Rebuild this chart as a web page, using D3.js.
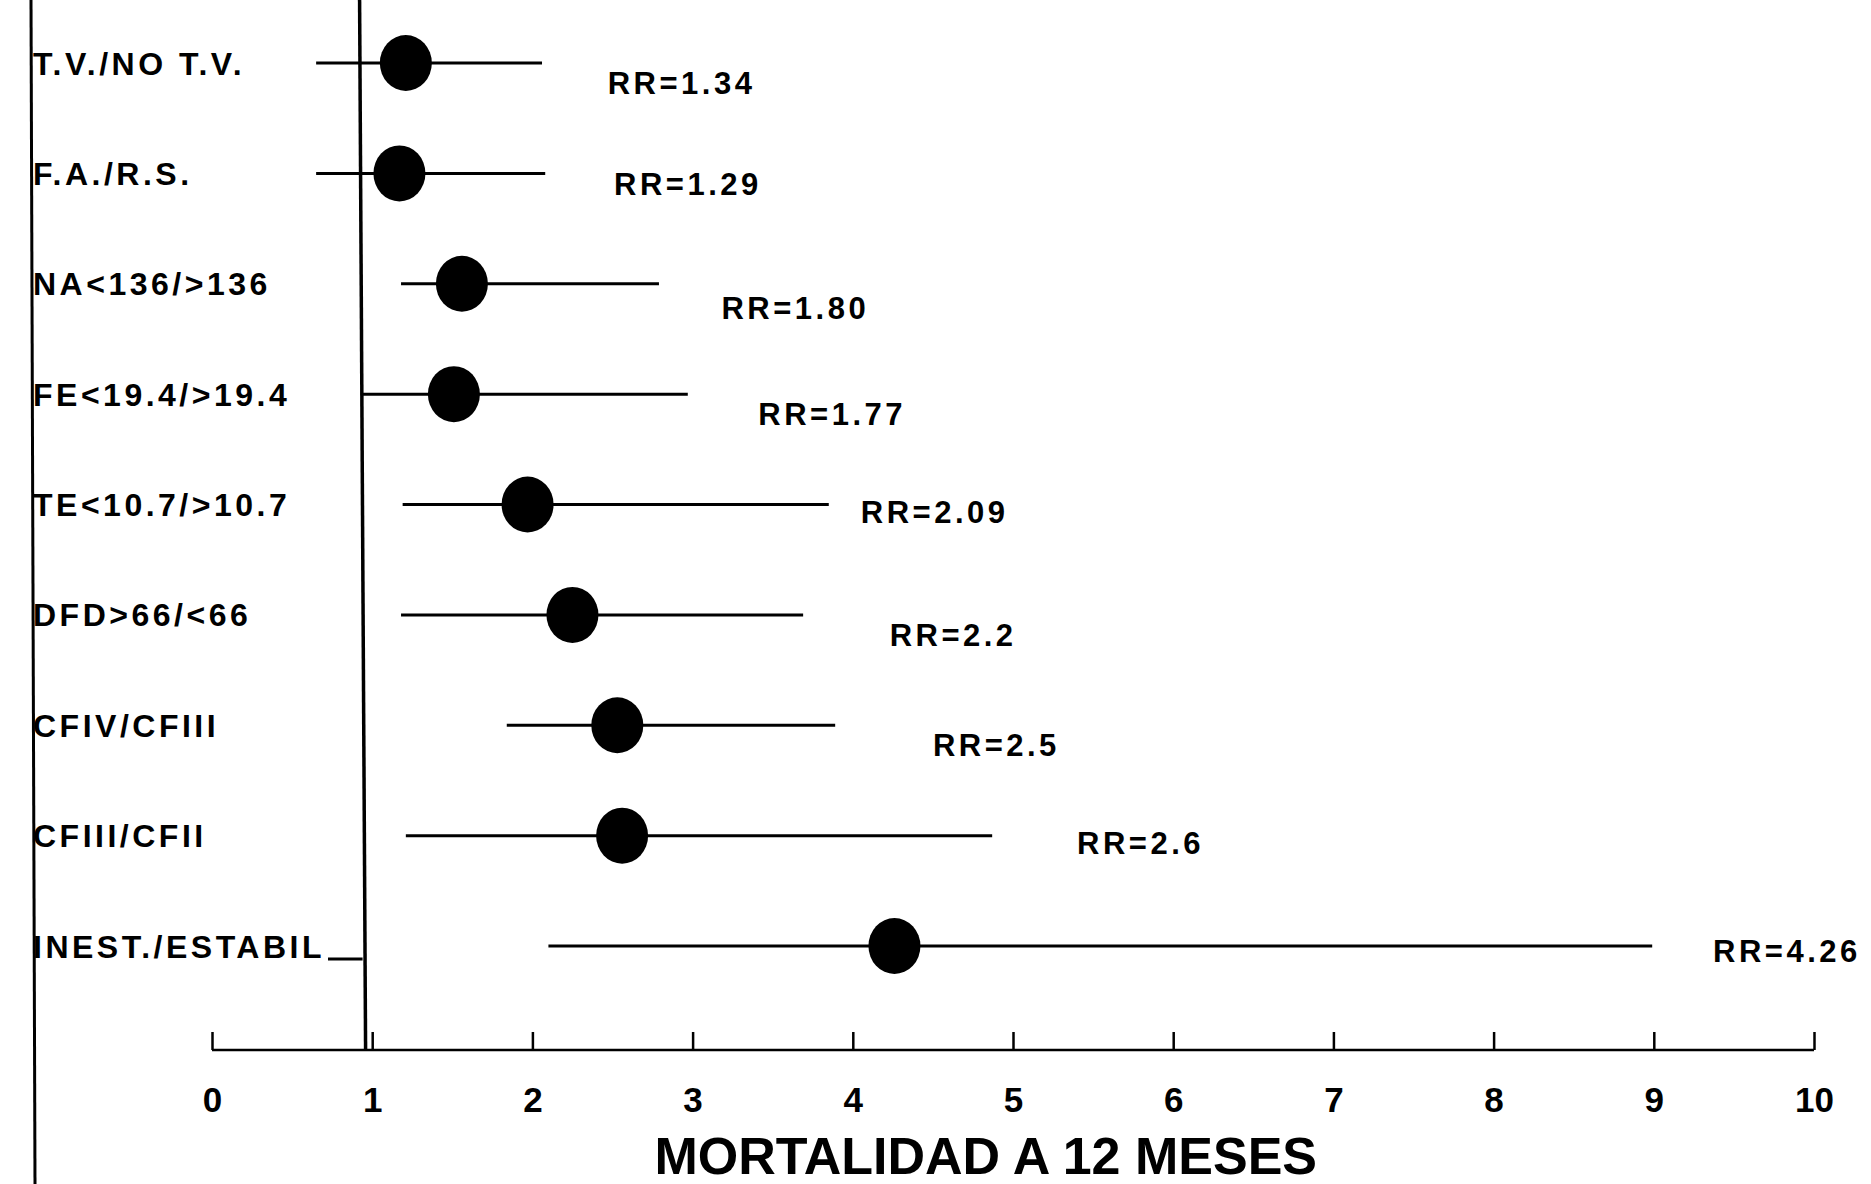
<!DOCTYPE html>
<html>
<head>
<meta charset="utf-8">
<script src="https://cdn.jsdelivr.net/npm/d3@7"></script>
<style>
  html, body { margin: 0; padding: 0; background: #fff; }
  text { font-family: "Liberation Sans", Arial, sans-serif; font-weight: bold; fill: #000; }
</style>
</head>
<body>
<svg id="chart"></svg>
<script>
// categories, top to bottom
const categories = ['T.V./NO T.V.', 'F.A./R.S.', 'NA<136/>136', 'FE<19.4/>19.4', 'TE<10.7/>10.7',
  'DFD>66/<66', 'CFIV/CFIII', 'CFIII/CFII', 'INEST./ESTABIL']
// point estimate (as drawn) and interval ends
const rrPoint = [1.21, 1.17, 1.56, 1.51, 1.97, 2.25, 2.53, 2.56, 4.26]
const ciLow = [0.65, 0.65, 1.18, 0.93, 1.19, 1.18, 1.84, 1.21, 2.10]
const ciHigh = [2.06, 2.08, 2.79, 2.97, 3.85, 3.69, 3.89, 4.87, 8.99]
const rrLabels = ['RR=1.34', 'RR=1.29', 'RR=1.80', 'RR=1.77', 'RR=2.09', 'RR=2.2', 'RR=2.5', 'RR=2.6', 'RR=4.26']
const xTicks = [0, 1, 2, 3, 4, 5, 6, 7, 8, 9, 10]
const refValue = 0.94
const axisTitle = 'MORTALIDAD A 12 MESES'

const width = 1871
const height = 1184

// where the RR text sits (axis units) and its drop below the row line
const labelAt = [2.47, 2.51, 3.18, 3.41, 4.05, 4.23, 4.50, 5.40, 9.37]
const labelDrop = [20, 10, 24, 20, 7, 20, 20, 7, 5]

const svg = d3.select('#chart')
  .attr('width', width)
  .attr('height', height)

svg.append('rect').attr('width', width).attr('height', height).attr('fill', '#fff')

// set the ranges
const x = d3.scaleLinear().domain([0, 10]).range([212, 1814])
const y = d3.scalePoint().domain(categories).range([63, 946])
const axisY = 1050

// left border line
svg.append('line')
  .attr('x1', 31).attr('x2', 35)
  .attr('y1', 0).attr('y2', height)
  .attr('stroke', '#000').attr('stroke-width', 3)

// reference line
svg.append('line')
  .attr('x1', x(refValue) - 3).attr('x2', x(refValue) + 3)
  .attr('y1', 0).attr('y2', axisY)
  .attr('stroke', '#000').attr('stroke-width', 3.5)

// bottom axis
const axis = svg.append('g')
  .attr('transform', 'translate(0,' + axisY + ')')
  .call(d3.axisBottom(x).tickValues(xTicks).tickSize(-18).tickFormat(d3.format('d')))
axis.select('.domain').remove()
axis.append('line')
  .attr('x1', x(0)).attr('x2', x(10))
  .attr('stroke', '#000').attr('stroke-width', 2.5)
axis.selectAll('.tick line').attr('stroke', '#000').attr('stroke-width', 2.5)
axis.selectAll('.tick text')
  .attr('y', 50)
  .attr('dy', '0.35em')
  .attr('fill', '#000')
  .style('font-family', '"Liberation Sans", Arial, sans-serif')
  .style('font-weight', 'bold')
  .style('font-size', '35px')

// axis title
svg.append('text')
  .attr('x', x(4.83))
  .attr('y', 1174)
  .attr('text-anchor', 'middle')
  .style('font-size', '52px')
  .text(axisTitle)

const rows = categories.map((c, i) => ({
  cat: c, est: rrPoint[i], lo: ciLow[i], hi: ciHigh[i],
  label: rrLabels[i], lx: labelAt[i], ld: labelDrop[i]
}))

// category labels
svg.selectAll('.cat')
  .data(rows)
  .enter().append('text')
  .attr('class', 'cat')
  .attr('x', 33)
  .attr('y', d => y(d.cat))
  .attr('dy', '0.36em')
  .style('font-size', '32px')
  .style('letter-spacing', '3.5px')
  .text(d => d.cat)

// small connector from last label to the reference line
svg.append('line')
  .attr('x1', 328).attr('x2', x(refValue))
  .attr('y1', y(categories[8]) + 13).attr('y2', y(categories[8]) + 13)
  .attr('stroke', '#000').attr('stroke-width', 3)

// interval lines
svg.selectAll('.ci')
  .data(rows)
  .enter().append('line')
  .attr('class', 'ci')
  .attr('x1', d => x(d.lo))
  .attr('x2', d => x(d.hi))
  .attr('y1', d => y(d.cat))
  .attr('y2', d => y(d.cat))
  .attr('stroke', '#000')
  .attr('stroke-width', 3)

// point estimates
svg.selectAll('.dot')
  .data(rows)
  .enter().append('ellipse')
  .attr('class', 'dot')
  .attr('cx', d => x(d.est))
  .attr('cy', d => y(d.cat))
  .attr('rx', 26)
  .attr('ry', 28)
  .attr('fill', '#000')

// RR labels
svg.selectAll('.rr')
  .data(rows)
  .enter().append('text')
  .attr('class', 'rr')
  .attr('x', d => x(d.lx))
  .attr('y', d => y(d.cat) + d.ld)
  .attr('dy', '0.36em')
  .style('font-size', '31px')
  .style('letter-spacing', '3.5px')
  .text(d => d.label)
</script>
</body>
</html>
